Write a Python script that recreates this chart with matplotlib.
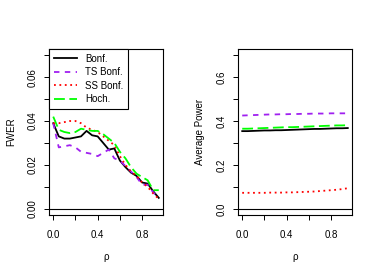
import matplotlib
matplotlib.use("Agg")
import matplotlib.pyplot as plt
import numpy as np

plt.rcParams["font.family"] = ["Liberation Sans", "DejaVu Sans"]

rho = np.arange(20) * 0.05

# FWER (left panel)
fwer_bonf = [0.039, 0.033, 0.032, 0.032, 0.0325, 0.033, 0.0355, 0.0335, 0.033, 0.030,
             0.027, 0.0275, 0.022, 0.019, 0.0165, 0.015, 0.012, 0.0115, 0.008, 0.005]
fwer_ts = [0.039, 0.028, 0.0285, 0.029, 0.028, 0.026, 0.0255, 0.025, 0.024, 0.0255,
           0.027, 0.023, 0.022, 0.0195, 0.017, 0.0145, 0.011, 0.011, 0.0075, 0.005]
fwer_ss = [0.039, 0.039, 0.0395, 0.040, 0.040, 0.039, 0.037, 0.036, 0.035, 0.033,
           0.031, 0.029, 0.024, 0.020, 0.017, 0.015, 0.012, 0.010, 0.007, 0.0045]
fwer_hoch = [0.042, 0.036, 0.035, 0.0345, 0.035, 0.0365, 0.036, 0.0355, 0.0355, 0.034,
             0.032, 0.030, 0.026, 0.023, 0.019, 0.016, 0.0145, 0.013, 0.0085, 0.0085]

# Average power (right panel)
pow_bonf = [0.354, 0.354, 0.355, 0.356, 0.357, 0.357, 0.358, 0.358, 0.359, 0.360,
            0.361, 0.362, 0.363, 0.364, 0.364, 0.365, 0.366, 0.367, 0.367, 0.368]
pow_ts = [0.425, 0.426, 0.427, 0.428, 0.429, 0.430, 0.430, 0.431, 0.431, 0.432,
          0.432, 0.433, 0.433, 0.434, 0.434, 0.434, 0.435, 0.435, 0.435, 0.435]
pow_ss = [0.073, 0.073, 0.073, 0.073, 0.073, 0.074, 0.074, 0.074, 0.075, 0.075,
          0.076, 0.077, 0.078, 0.079, 0.081, 0.083, 0.085, 0.087, 0.090, 0.094]
pow_hoch = [0.365, 0.365, 0.366, 0.367, 0.368, 0.369, 0.370, 0.371, 0.372, 0.372,
            0.373, 0.374, 0.375, 0.376, 0.377, 0.378, 0.379, 0.380, 0.380, 0.381]

labels = ["Bonf.", "TS Bonf.", "SS Bonf.", "Hoch."]
colors = ["black", "#A020F0", "red", "#00FF00"]
styles = ["-", (0, (3, 3)), (0, (1, 2)), (0, (6, 2.5))]

FS = 7
W, H = 377, 277
fig = plt.figure(figsize=(W / 100, H / 100), dpi=100)


def make_axes(left, ylim, yticks, ylabels, ylab):
    ax = fig.add_axes([left / W, (H - 215) / H, 114 / W, 166 / H])
    pad_y = (ylim[1] - ylim[0]) * 0.04
    ax.set_ylim(ylim[0] - pad_y, ylim[1] + pad_y)
    ax.set_xlim(-0.038, 0.988)
    ax.set_xticks([0.0, 0.2, 0.4, 0.6, 0.8])
    ax.set_xticklabels(["0.0", "", "0.4", "", "0.8"])
    ax.set_yticks(yticks)
    ax.set_yticklabels(ylabels, rotation=90, va="center")
    ax.tick_params(direction="out", length=3.5, width=0.7, labelsize=FS, pad=5)
    ax.tick_params(axis="x", pad=7)
    for s in ax.spines.values():
        s.set_linewidth(0.8)
    ax.axhline(0, color="black", lw=0.8)
    ax.set_xlabel("\u03c1", fontsize=FS, labelpad=9)
    ax.set_ylabel(ylab, fontsize=FS, labelpad=8)
    return ax


ax1 = make_axes(49, (0, 0.07), np.arange(8) * 0.01,
                ["0.00", "", "0.02", "", "0.04", "", "0.06", ""], "FWER")
for y, lab, c, ls in zip([fwer_bonf, fwer_ts, fwer_ss, fwer_hoch], labels, colors, styles):
    ax1.plot(rho, y, color=c, linestyle=ls, lw=1.3, label=lab)
leg = ax1.legend(loc="upper left", fontsize=FS, frameon=True, fancybox=False,
                 edgecolor="black", framealpha=1, borderaxespad=0, handlelength=2.4,
                 handletextpad=0.8, labelspacing=0.35, borderpad=0.5)
leg.get_frame().set_linewidth(0.8)

ax2 = make_axes(238, (0, 0.7), np.arange(8) * 0.1,
                ["0.0", "", "0.2", "", "0.4", "", "0.6", ""], "Average Power")
for y, c, ls in zip([pow_bonf, pow_ts, pow_ss, pow_hoch], colors, styles):
    ax2.plot(rho, y, color=c, linestyle=ls, lw=1.3)

fig.savefig("out.png", dpi=100)
